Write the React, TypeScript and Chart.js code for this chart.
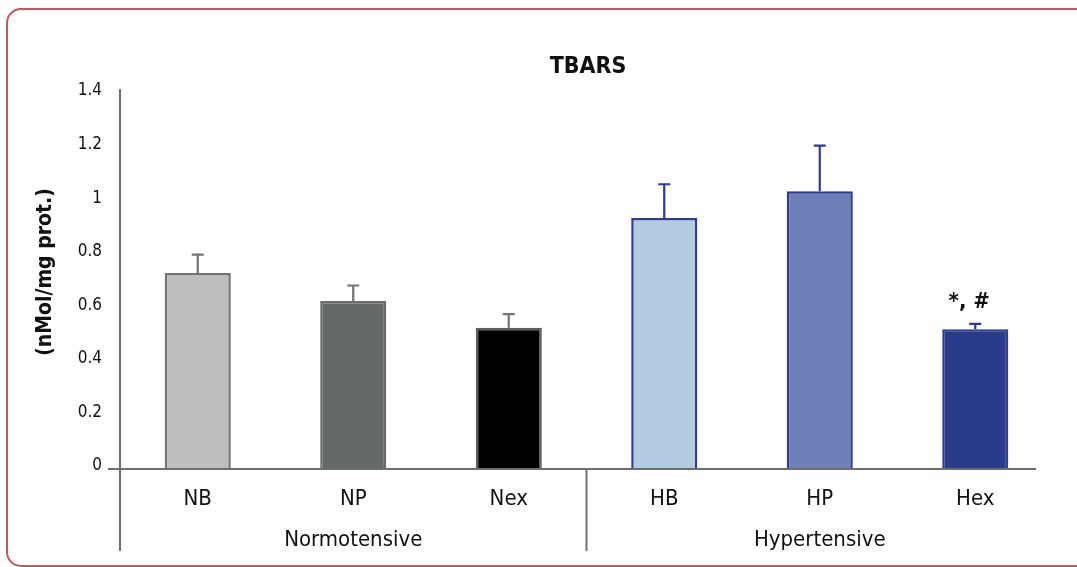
import React, { useEffect, useRef } from "react";
import { Chart, registerables } from "chart.js";

Chart.register(...registerables);

const categories = ["NB", "NP", "Nex", "HB", "HP", "Hex"];
const values = [0.732, 0.627, 0.527, 0.937, 1.037, 0.522];
const errorTops = [0.8, 0.685, 0.578, 1.063, 1.207, 0.542];
const groups = ["Normotensive", "Hypertensive"];
const groupCenterIndex = [1, 4];
const annotations = ["", "", "", "", "", "*, #"];
const fillColors = ["#bdbfbe", "#646868", "#000000", "#b2cbe1", "#6e7fb7", "#293b8a"];
const borderColors = ["#727374", "#6a6c6c", "#5e6060", "#2d3c8e", "#2d3c8e", "#2f4090"];
const errorColors = ["#727374", "#727374", "#727374", "#2d3c8e", "#2d3c8e", "#2d3c8e"];
const yTicks = [0, 0.2, 0.4, 0.6, 0.8, 1, 1.2, 1.4];

const FONT = "'DejaVu Sans Condensed', 'Liberation Sans Narrow', Arial, sans-serif";

const extras = {
  id: "extras",
  afterDatasetsDraw(chart: any) {
    const ctx = chart.ctx;
    const x = chart.scales.x;
    const y = chart.scales.y;
    const area = chart.chartArea;
    const y0 = y.getPixelForValue(0);
    ctx.save();
    // axes
    ctx.strokeStyle = "#6d6e70";
    ctx.lineWidth = 2;
    ctx.beginPath();
    ctx.moveTo(area.left, area.top - 5);
    ctx.lineTo(area.left, 551);
    ctx.moveTo(area.left - 12, y0);
    ctx.lineTo(area.right - 17, y0);
    const sep = (x.getPixelForValue(2) + x.getPixelForValue(3)) / 2;
    ctx.moveTo(sep, y0);
    ctx.lineTo(sep, 551);
    ctx.stroke();

    // error bars
    const meta = chart.getDatasetMeta(0);
    meta.data.forEach((bar: any, i: number) => {
      const top = y.getPixelForValue(errorTops[i]);
      const base = y.getPixelForValue(values[i]);
      ctx.strokeStyle = errorColors[i];
      ctx.lineWidth = 2.2;
      ctx.beginPath();
      ctx.moveTo(bar.x, base);
      ctx.lineTo(bar.x, top);
      ctx.moveTo(bar.x - 6, top);
      ctx.lineTo(bar.x + 6, top);
      ctx.stroke();
      if (annotations[i]) {
        ctx.fillStyle = "#111";
        ctx.font = `bold 22px ${FONT}`;
        ctx.textAlign = "center";
        ctx.textBaseline = "alphabetic";
        ctx.fillText(annotations[i], bar.x - 6, top - 16);
      }
    });

    // group labels
    ctx.fillStyle = "#111";
    ctx.font = `22px ${FONT}`;
    ctx.textAlign = "center";
    ctx.textBaseline = "middle";
    groups.forEach((g, i) => {
      ctx.fillText(g, x.getPixelForValue(groupCenterIndex[i]), 540);
    });

    // title
    ctx.font = `bold 23px ${FONT}`;
    ctx.fillText("TBARS", 588, 67);

    // y title
    ctx.translate(46, 272);
    ctx.rotate(-Math.PI / 2);
    ctx.font = `bold 21px ${FONT}`;
    ctx.fillText("(nMol/mg prot.)", 0, 0);
    ctx.restore();
  },
};

export default function App() {
  const ref = useRef<HTMLCanvasElement>(null);
  useEffect(() => {
    const chart = new Chart(ref.current!, {
      type: "bar",
      data: {
        labels: categories,
        datasets: [
          {
            data: values,
            backgroundColor: fillColors,
            borderColor: borderColors,
            borderWidth: 2.5,
            barPercentage: 0.425,
            categoryPercentage: 1,
          },
        ],
      },
      options: {
        responsive: false,
        animation: false,
        layout: { padding: { left: 0, right: 24, top: 94, bottom: 0 } },
        plugins: { legend: { display: false }, tooltip: { enabled: false }, title: { display: false } },
        scales: {
          x: {
            grid: { display: false, drawTicks: false },
            border: { display: false },
            ticks: { font: { family: FONT, size: 22 }, color: "#111", padding: 17 },
            afterFit: (s: any) => {
              s.height = 98;
            },
          },
          y: {
            min: 0,
            max: 1.4,
            afterBuildTicks: (s: any) => {
              s.ticks = yTicks.map((v) => ({ value: v }));
            },
            grid: { display: false, drawTicks: false },
            border: { display: false },
            ticks: {
              font: { family: FONT, size: 17 },
              color: "#111",
              padding: 18,
              labelOffset: -3,
              callback: (v: any) => String(+Number(v).toFixed(1)),
            },
            afterFit: (s: any) => {
              s.width = 120;
            },
          },
        },
      },
      plugins: [extras],
    });
    return () => chart.destroy();
  }, []);
  return (
    <div style={{ position: "fixed", left: 0, top: 0, width: 1077, height: 567, overflow: "hidden", background: "#fff" }}>
      <div
        style={{
          position: "absolute",
          left: 6,
          top: 8,
          width: 1100,
          height: 555,
          border: "2.5px solid #c9545b",
          borderRadius: 15,
        }}
      />
      <canvas ref={ref} width={1077} height={567} style={{ position: "absolute", left: 0, top: 0 }} />
    </div>
  );
}
